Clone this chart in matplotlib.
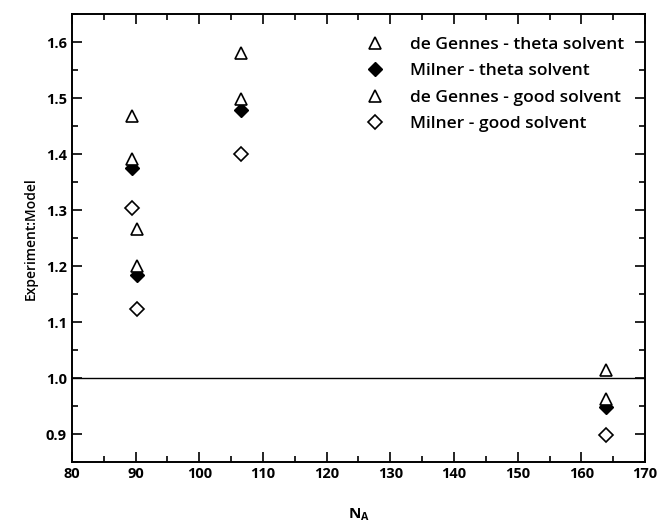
import matplotlib
matplotlib.use("Agg")
import matplotlib.pyplot as plt
from matplotlib.ticker import MultipleLocator

plt.rcParams["font.family"] = ["Open Sans", "DejaVu Sans"]

# N_A positions for each measured brush
n_a = [89.4, 90.2, 106.5, 163.9]

# experiment : model ratios
degennes_theta = [1.469, 1.267, 1.580, 1.015]
milner_theta = [1.376, 1.185, 1.479, 0.949]
degennes_good = [1.392, 1.200, 1.498, 0.962]
milner_good = [1.304, 1.124, 1.400, 0.899]

fig = plt.figure(figsize=(6.59, 5.27), dpi=100)
ax = fig.add_axes([0.109, 0.123, 0.870, 0.850])

ax.axhline(1.0, color="black", linewidth=1.0, zorder=1)

ms = 8
ax.plot(n_a, degennes_theta, "^", mfc="white", mec="black", mew=1.2, ms=ms,
        label="de Gennes - theta solvent", linestyle="none")
ax.plot(n_a, milner_theta, "D", mfc="black", mec="black", mew=1.0, ms=ms - 1,
        label="Milner - theta solvent", linestyle="none")
ax.plot(n_a, degennes_good, "^", mfc="white", mec="black", mew=1.2, ms=ms,
        label="de Gennes - good solvent", linestyle="none")
ax.plot(n_a, milner_good, "D", mfc="white", mec="black", mew=1.2, ms=ms - 1,
        label="Milner - good solvent", linestyle="none")

ax.set_xlim(80, 170)
ax.set_ylim(0.85, 1.65)
ax.xaxis.set_major_locator(MultipleLocator(10))
ax.xaxis.set_minor_locator(MultipleLocator(5))
ax.yaxis.set_major_locator(MultipleLocator(0.1))
ax.yaxis.set_minor_locator(MultipleLocator(0.05))
ax.yaxis.set_major_formatter(plt.FormatStrFormatter("%.1f"))

ax.tick_params(which="both", direction="in", top=True, right=True,
               labelsize=10.5, width=1.2)
ax.tick_params(which="major", length=7)
ax.tick_params(which="minor", length=4)
for lab in ax.get_xticklabels() + ax.get_yticklabels():
    lab.set_fontweight("bold")
for sp in ax.spines.values():
    sp.set_linewidth(1.4)

ax.set_xlabel(r"N$_\mathregular{A}$", fontsize=11, fontweight="bold", labelpad=18)
ax.set_ylabel("Experiment:Model", fontsize=10, fontweight="semibold", labelpad=6)

leg = ax.legend(loc="upper right", frameon=False, fontsize=12.5,
                bbox_to_anchor=(0.99, 0.985), handletextpad=1.5,
                labelspacing=0.6, handlelength=1.0)
for t in leg.get_texts():
    t.set_fontweight("semibold")

fig.savefig("out.png", dpi=100)
